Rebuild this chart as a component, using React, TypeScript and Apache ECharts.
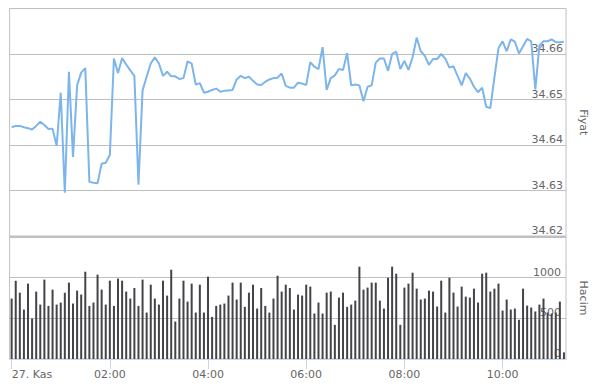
import React, { useEffect, useRef } from "react";
import * as echarts from "echarts";

const tickLabels = ["27. Kas", "02:00", "04:00", "06:00", "08:00", "10:00"];
const tickEvery = 24; // 5-minute steps per 2 hours

const priceValues = [
  34.6439, 34.6442, 34.6442, 34.6439, 34.6437, 34.6434, 34.6442, 34.6451, 34.6444, 34.6435,
  34.6436, 34.6398, 34.6515, 34.6295, 34.6561, 34.6374, 34.6531, 34.6559, 34.6569, 34.6319,
  34.6317, 34.6316, 34.6359, 34.6361, 34.6378, 34.659, 34.6558, 34.6591, 34.6577, 34.6564,
  34.6552, 34.6313, 34.652, 34.655, 34.6579, 34.6593, 34.6579, 34.6552, 34.6561, 34.6551,
  34.6551, 34.6545, 34.6547, 34.6584, 34.6579, 34.6533, 34.6536, 34.6515, 34.6517, 34.6521,
  34.6524, 34.6517, 34.6519, 34.652, 34.6521, 34.6544, 34.6552, 34.6547, 34.655, 34.6541,
  34.6533, 34.6532, 34.6539, 34.6544, 34.6547, 34.6548, 34.6557, 34.653, 34.6526, 34.6526,
  34.6537, 34.6535, 34.6532, 34.6582, 34.6572, 34.6567, 34.6615, 34.6521, 34.6547, 34.6553,
  34.6567, 34.6565, 34.6602, 34.6531, 34.6533, 34.6531, 34.6496, 34.6528, 34.6531, 34.6581,
  34.659, 34.659, 34.6563, 34.66, 34.6605, 34.6567, 34.6585, 34.6565, 34.6593, 34.6636,
  34.6606, 34.6596, 34.6576, 34.6589, 34.6589, 34.66, 34.659, 34.657, 34.6573, 34.6552,
  34.6531, 34.6558, 34.6546, 34.6528, 34.6516, 34.6526, 34.6484, 34.6481, 34.6548, 34.6613,
  34.6628, 34.6606, 34.6632, 34.6627, 34.6601, 34.6617, 34.6633, 34.6628, 34.6522, 34.6619,
  34.6628, 34.6628, 34.6632, 34.6626, 34.6626, 34.6627,
];

const volumeValues = [
  743, 963, 816, 608, 927, 498, 829, 669, 976, 653,
  853, 669, 694, 816, 939, 682, 841, 792, 1073, 653,
  694, 1037, 853, 669, 963, 653, 988, 963, 829, 743,
  873, 653, 976, 571, 914, 743, 669, 963, 780, 1098,
  461, 743, 963, 706, 927, 571, 914, 571, 1012, 518,
  653, 669, 682, 780, 939, 731, 939, 641, 816, 914,
  620, 873, 653, 571, 743, 1024, 829, 914, 873, 608,
  792, 780, 914, 890, 559, 694, 559, 816, 829, 420,
  755, 816, 641, 669, 718, 1135, 853, 878, 939, 939,
  718, 620, 1000, 1135, 1049, 420, 878, 927, 1061, 865,
  731, 743, 841, 829, 645, 963, 571, 1000, 816, 645,
  890, 767, 755, 865, 694, 1049, 1061, 829, 865, 927,
  596, 731, 608, 620, 482, 865, 657, 633, 584, 669,
  743, 571, 559, 571, 706, 82,
];

const categories: string[] = priceValues.map((_, i) => {
  const m = i * 5;
  const h = Math.floor(m / 60);
  const mm = m % 60;
  return `${String(h).padStart(2, "0")}:${String(mm).padStart(2, "0")}`;
});

const FONT = "DejaVu Sans";
const LABEL = "#666666";
const GRIDC = "#c0c0c0";

export default function App() {
  const ref = useRef<HTMLDivElement>(null);
  useEffect(() => {
    if (!ref.current) return;
    const chart = echarts.init(ref.current, undefined, { renderer: "svg" });
    const labelInterval = (idx: number) => idx % tickEvery === 0;
    chart.setOption({
      animation: false,
      backgroundColor: "#ffffff",
      grid: [
        { left: 9.6, right: 21.6, top: 8.5, height: 227.5, show: true, borderColor: GRIDC, borderWidth: 1, containLabel: false },
        { left: 9.6, right: 21.6, top: 237, height: 122, show: true, borderColor: GRIDC, borderWidth: 1, containLabel: false },
      ],
      xAxis: [
        {
          type: "category",
          gridIndex: 0,
          data: categories,
          boundaryGap: true,
          show: false,
        },
        {
          type: "category",
          gridIndex: 1,
          data: categories,
          boundaryGap: true,
          axisLine: { show: true, lineStyle: { color: "#ccd6eb" } },
          axisTick: { show: true, alignWithLabel: true, interval: labelInterval, length: 10, lineStyle: { color: "#ccd6eb" } },
          axisLabel: {
            interval: labelInterval,
            formatter: (_v: string, idx: number) => tickLabels[Math.round(idx / tickEvery)] ?? "",
            color: LABEL,
            fontSize: 11,
            fontFamily: FONT,
            margin: 10,
            alignMinLabel: "left",
          },
          splitLine: { show: false },
        },
      ],
      yAxis: [
        {
          type: "value",
          gridIndex: 0,
          position: "right",
          min: 34.62,
          max: 34.67,
          interval: 0.01,
          axisLine: { show: false },
          axisTick: { show: false },
          splitLine: { show: true, lineStyle: { color: GRIDC } },
          axisLabel: {
            inside: true,
            showMaxLabel: false,
            formatter: (v: number) => v.toFixed(2),
            color: LABEL,
            fontSize: 11,
            fontFamily: FONT,
            margin: 3,
            verticalAlign: "bottom",
          },
          name: "Fiyat",
          nameLocation: "middle",
          nameRotate: -90,
          nameGap: 12,
          nameTextStyle: { color: LABEL, fontSize: 11, fontFamily: FONT },
        },
        {
          type: "value",
          gridIndex: 1,
          position: "right",
          min: 0,
          max: 1500,
          interval: 500,
          axisLine: { show: false },
          axisTick: { show: false },
          splitLine: { show: true, lineStyle: { color: GRIDC } },
          axisLabel: {
            inside: true,
            showMaxLabel: false,
            formatter: (v: number) => String(v),
            color: LABEL,
            fontSize: 11,
            fontFamily: FONT,
            margin: 5,
            verticalAlign: "bottom",
          },
          name: "Hacim",
          nameLocation: "middle",
          nameRotate: -90,
          nameGap: 12,
          nameTextStyle: { color: LABEL, fontSize: 11, fontFamily: FONT },
        },
      ],
      series: [
        {
          type: "line",
          name: "Fiyat",
          xAxisIndex: 0,
          yAxisIndex: 0,
          data: priceValues,
          symbol: "none",
          lineStyle: { color: "#7cb5ec", width: 2 },
          itemStyle: { color: "#7cb5ec" },
        },
        {
          type: "bar",
          name: "Hacim",
          xAxisIndex: 1,
          yAxisIndex: 1,
          data: volumeValues,
          barWidth: 2,
          itemStyle: { color: "#434348" },
        },
      ],
    });
    return () => chart.dispose();
  }, []);
  return (
    <div
      ref={ref}
      style={{ position: "fixed", left: 0, top: 0, width: 597, height: 385, background: "#fff" }}
    />
  );
}
